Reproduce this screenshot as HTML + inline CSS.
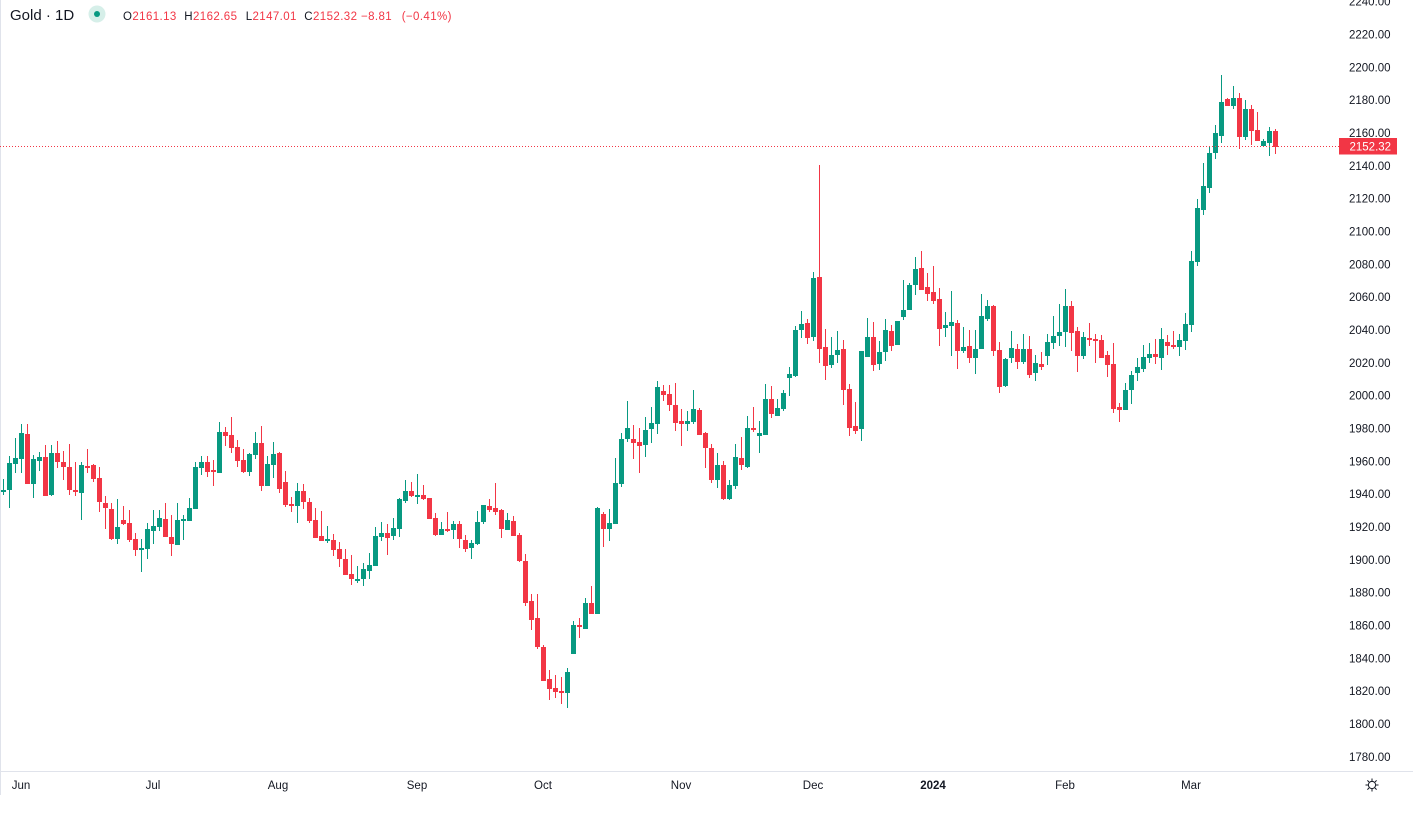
<!DOCTYPE html>
<html><head><meta charset="utf-8"><style>
html,body{margin:0;padding:0;background:#fff;}
body{width:1413px;height:814px;overflow:hidden;}
svg{display:block;font-family:"Liberation Sans",Arial,sans-serif;}
</style></head><body>
<svg width="1413" height="814" viewBox="0 0 1413 814" xmlns="http://www.w3.org/2000/svg">
<rect width="1413" height="814" fill="#fff"/>
<line x1="0.5" y1="0" x2="0.5" y2="795" stroke="#e0e3eb" stroke-width="1"/>
<line x1="0" y1="771.5" x2="1413" y2="771.5" stroke="#e0e3eb" stroke-width="1"/>

<!-- green wicks -->
<path fill="none" stroke="#089981" stroke-width="1" d="M3.5 479V495M9.5 456V508M15.5 438V473M21.5 424V473M33.5 455V498M39.5 452V471M51.5 445V496M81.5 462V520M117.5 499V544M141.5 539V572M147.5 523V559M153.5 510V544M159.5 510V531M177.5 503V545M183.5 515V540M189.5 498V521M195.5 462V509M201.5 456V475M219.5 422V473M249.5 453V476M255.5 432V459M267.5 456V486M273.5 442V478M297.5 483V523M327.5 526V543M357.5 566V583M363.5 563V586M369.5 553V579M375.5 527V566M381.5 522V541M393.5 518V540M399.5 498V537M405.5 480V503M417.5 474V504M441.5 522V535M453.5 521V539M471.5 540V559M477.5 511V545M483.5 505V524M507.5 513V530M567.5 668V708M573.5 621V654M585.5 598V629M597.5 507V614M609.5 509V541M615.5 458V524M621.5 433V487M627.5 401V442M645.5 417V457M651.5 407V443M657.5 381V434M687.5 411V431M693.5 390V424M717.5 453V488M729.5 480V500M735.5 444V489M747.5 416V468M759.5 421V453M765.5 384V435M777.5 399V416M783.5 390V411M789.5 367V396M795.5 326V377M801.5 311V338M813.5 272V341M831.5 337V368M837.5 331V363M861.5 351V441M867.5 318V357M879.5 341V370M885.5 319V361M897.5 321V345M903.5 280V320M909.5 283V310M915.5 257V295M945.5 312V337M951.5 291V356M963.5 327V353M975.5 330V374M981.5 294V349M987.5 300V321M1005.5 358V387M1011.5 331V363M1023.5 334V364M1035.5 355V381M1047.5 334V365M1053.5 316V349M1059.5 304V346M1065.5 289V347M1083.5 332V359M1125.5 383V410M1131.5 371V404M1137.5 358V381M1143.5 345V372M1149.5 343V363M1161.5 328V370M1179.5 334V356M1185.5 313V350M1191.5 251V332M1197.5 199V266M1203.5 163V215M1209.5 146V193M1215.5 125V159M1221.5 75V143M1233.5 86V109M1245.5 100V140M1263.5 139V146M1269.5 127V156"/>
<!-- green bodies -->
<path fill="#089981" d="M1 490h5V492h-5zM7 463h5V490h-5zM13 458h5V464h-5zM19 433h5V459h-5zM31 459h5V484h-5zM37 457h5V461h-5zM49 453h5V495h-5zM79 465h5V493h-5zM115 527h5V539h-5zM139 548h5V550h-5zM145 529h5V549h-5zM151 526h5V531h-5zM157 518h5V527h-5zM175 520h5V545h-5zM181 519h5V521h-5zM187 508h5V521h-5zM193 467h5V509h-5zM199 462h5V468h-5zM217 432h5V473h-5zM247 454h5V472h-5zM253 443h5V455h-5zM265 464h5V486h-5zM271 454h5V465h-5zM295 491h5V506h-5zM325 539h5V541h-5zM355 579h5V581h-5zM361 569h5V579h-5zM367 565h5V571h-5zM373 536h5V566h-5zM379 533h5V537h-5zM391 528h5V536h-5zM397 499h5V529h-5zM403 491h5V501h-5zM415 495h5V497h-5zM439 529h5V535h-5zM451 524h5V530h-5zM469 543h5V548h-5zM475 522h5V544h-5zM481 505h5V522h-5zM505 520h5V530h-5zM565 672h5V693h-5zM571 625h5V654h-5zM583 603h5V629h-5zM595 508h5V614h-5zM607 523h5V529h-5zM613 483h5V524h-5zM619 439h5V484h-5zM625 428h5V439h-5zM643 430h5V445h-5zM649 423h5V429h-5zM655 387h5V424h-5zM685 421h5V424h-5zM691 409h5V422h-5zM715 465h5V480h-5zM727 485h5V499h-5zM733 457h5V486h-5zM745 428h5V467h-5zM757 433h5V436h-5zM763 399h5V435h-5zM775 408h5V416h-5zM781 393h5V409h-5zM787 374h5V378h-5zM793 330h5V376h-5zM799 324h5V330h-5zM811 278h5V337h-5zM829 355h5V365h-5zM835 350h5V355h-5zM859 351h5V429h-5zM865 337h5V357h-5zM877 352h5V364h-5zM883 330h5V352h-5zM895 321h5V345h-5zM901 310h5V317h-5zM907 285h5V310h-5zM913 269h5V285h-5zM943 325h5V328h-5zM949 322h5V326h-5zM961 347h5V351h-5zM973 349h5V358h-5zM979 316h5V349h-5zM985 306h5V319h-5zM1003 359h5V386h-5zM1009 348h5V358h-5zM1021 349h5V362h-5zM1033 363h5V373h-5zM1045 342h5V356h-5zM1051 336h5V343h-5zM1057 332h5V336h-5zM1063 306h5V332h-5zM1081 337h5V356h-5zM1123 390h5V410h-5zM1129 375h5V390h-5zM1135 367h5V373h-5zM1141 357h5V369h-5zM1147 354h5V358h-5zM1159 339h5V358h-5zM1177 340h5V347h-5zM1183 324h5V341h-5zM1189 261h5V325h-5zM1195 208h5V262h-5zM1201 186h5V210h-5zM1207 153h5V188h-5zM1213 133h5V153h-5zM1219 102h5V136h-5zM1231 98h5V106h-5zM1243 109h5V137h-5zM1261 141h5V146h-5zM1267 131h5V143h-5z"/>

<!-- red wicks -->
<path fill="none" stroke="#f23645" stroke-width="1" d="M27.5 424V484M45.5 445V496M57.5 441V468M63.5 451V480M69.5 444V495M75.5 462V496M87.5 449V473M93.5 464V482M99.5 467V512M105.5 496V529M111.5 503V540M123.5 506V525M129.5 510V542M135.5 533V556M165.5 503V537M171.5 515V556M207.5 456V477M213.5 460V486M225.5 427V446M231.5 417V453M237.5 440V467M243.5 449V473M261.5 426V491M279.5 452V493M285.5 471V507M291.5 497V512M303.5 484V509M309.5 498V523M315.5 508V538M321.5 511V541M333.5 534V556M339.5 542V567M345.5 549V575M351.5 555V585M387.5 524V555M411.5 482V497M423.5 485V500M429.5 498V519M435.5 513V536M447.5 512V532M459.5 521V548M465.5 535V552M489.5 499V512M495.5 483V515M501.5 509V538M513.5 516V536M519.5 533V562M525.5 554V606M531.5 594V630M537.5 594V649M543.5 645V681M549.5 670V700M555.5 675V698M561.5 677V704M579.5 618V638M591.5 586V614M603.5 512V547M633.5 425V459M639.5 428V473M663.5 385V401M669.5 385V411M675.5 383V431M681.5 409V446M699.5 408V435M705.5 432V468M711.5 444V483M723.5 461V500M741.5 437V470M753.5 407V432M771.5 386V418M807.5 319V344M819.5 165V363M825.5 329V380M843.5 340V405M849.5 384V436M855.5 402V434M873.5 322V371M891.5 325V351M921.5 251V290M927.5 273V301M933.5 266V304M939.5 288V346M957.5 320V369M969.5 330V363M993.5 305V356M999.5 342V393M1017.5 344V369M1029.5 336V378M1041.5 352V370M1071.5 301V351M1077.5 327V372M1089.5 323V346M1095.5 334V363M1101.5 335V358M1107.5 351V377M1113.5 343V413M1119.5 403V422M1155.5 339V364M1167.5 335V355M1173.5 331V349M1227.5 98V106M1239.5 93V149M1251.5 105V145M1257.5 112V141M1275.5 129V154"/>
<!-- red bodies -->
<path fill="#f23645" d="M25 434h5V484h-5zM43 457h5V496h-5zM55 453h5V462h-5zM61 462h5V467h-5zM67 467h5V490h-5zM73 490h5V492h-5zM85 466h5V468h-5zM91 465h5V479h-5zM97 478h5V502h-5zM103 503h5V508h-5zM109 509h5V539h-5zM121 520h5V524h-5zM127 523h5V540h-5zM133 539h5V550h-5zM163 519h5V537h-5zM169 537h5V544h-5zM205 462h5V472h-5zM211 470h5V472h-5zM223 432h5V436h-5zM229 435h5V448h-5zM235 447h5V461h-5zM241 460h5V472h-5zM259 443h5V486h-5zM277 453h5V489h-5zM283 482h5V505h-5zM289 504h5V506h-5zM301 491h5V502h-5zM307 502h5V521h-5zM313 520h5V538h-5zM319 536h5V541h-5zM331 540h5V550h-5zM337 549h5V559h-5zM343 559h5V575h-5zM349 574h5V579h-5zM385 533h5V538h-5zM409 491h5V496h-5zM421 495h5V499h-5zM427 498h5V519h-5zM433 518h5V535h-5zM445 529h5V531h-5zM457 524h5V539h-5zM463 540h5V549h-5zM487 506h5V510h-5zM493 508h5V512h-5zM499 510h5V529h-5zM511 521h5V536h-5zM517 535h5V561h-5zM523 561h5V603h-5zM529 601h5V620h-5zM535 618h5V647h-5zM541 647h5V681h-5zM547 679h5V689h-5zM553 688h5V692h-5zM559 691h5V693h-5zM577 625h5V627h-5zM589 603h5V614h-5zM601 514h5V529h-5zM631 439h5V443h-5zM637 442h5V446h-5zM661 391h5V395h-5zM667 394h5V405h-5zM673 405h5V423h-5zM679 421h5V424h-5zM697 410h5V435h-5zM703 433h5V448h-5zM709 448h5V480h-5zM721 465h5V499h-5zM739 458h5V465h-5zM751 428h5V430h-5zM769 399h5V414h-5zM805 323h5V338h-5zM817 277h5V349h-5zM823 347h5V366h-5zM841 349h5V390h-5zM847 389h5V428h-5zM853 426h5V431h-5zM871 337h5V365h-5zM889 331h5V346h-5zM919 268h5V290h-5zM925 287h5V294h-5zM931 292h5V301h-5zM937 299h5V329h-5zM955 323h5V351h-5zM967 346h5V358h-5zM991 306h5V351h-5zM997 350h5V387h-5zM1015 349h5V362h-5zM1027 349h5V375h-5zM1039 364h5V367h-5zM1069 306h5V333h-5zM1075 331h5V356h-5zM1087 338h5V340h-5zM1093 339h5V341h-5zM1099 340h5V358h-5zM1105 355h5V365h-5zM1111 364h5V409h-5zM1117 407h5V410h-5zM1153 354h5V357h-5zM1165 342h5V346h-5zM1171 345h5V347h-5zM1225 99h5V106h-5zM1237 98h5V137h-5zM1249 109h5V131h-5zM1255 130h5V141h-5zM1273 131h5V147h-5z"/>

<!-- last price dotted line -->
<line x1="0" y1="146.5" x2="1339" y2="146.5" stroke="#f23645" stroke-width="1" stroke-dasharray="1 2"/>

<!-- price axis -->
<g font-size="11.5" fill="#131722">
<text x="1349" y="5.7">2240.00</text>
<text x="1349" y="38.5">2220.00</text>
<text x="1349" y="71.3">2200.00</text>
<text x="1349" y="104.2">2180.00</text>
<text x="1349" y="137">2160.00</text>
<text x="1349" y="169.8">2140.00</text>
<text x="1349" y="202.7">2120.00</text>
<text x="1349" y="235.5">2100.00</text>
<text x="1349" y="268.3">2080.00</text>
<text x="1349" y="301.2">2060.00</text>
<text x="1349" y="334">2040.00</text>
<text x="1349" y="366.8">2020.00</text>
<text x="1349" y="399.6">2000.00</text>
<text x="1349" y="432.5">1980.00</text>
<text x="1349" y="465.3">1960.00</text>
<text x="1349" y="498.1">1940.00</text>
<text x="1349" y="531">1920.00</text>
<text x="1349" y="563.8">1900.00</text>
<text x="1349" y="596.6">1880.00</text>
<text x="1349" y="629.5">1860.00</text>
<text x="1349" y="662.3">1840.00</text>
<text x="1349" y="695.1">1820.00</text>
<text x="1349" y="728">1800.00</text>
<text x="1349" y="760.8">1780.00</text>
</g>
<rect x="1339" y="138" width="58" height="16.5" fill="#f23645"/>
<text x="1349.5" y="150.3" font-size="11.5" fill="#ffffff">2152.32</text>

<!-- time axis -->
<g font-size="11.5" fill="#131722" text-anchor="middle">
<text x="21" y="789">Jun</text>
<text x="153" y="789">Jul</text>
<text x="278" y="789">Aug</text>
<text x="417" y="789">Sep</text>
<text x="543" y="789">Oct</text>
<text x="681" y="789">Nov</text>
<text x="813" y="789">Dec</text>
<text x="933" y="789" font-weight="bold">2024</text>
<text x="1065" y="789">Feb</text>
<text x="1191" y="789">Mar</text>
</g>
<!-- gear -->
<g transform="translate(1372,785)" stroke="#131722" stroke-width="1" fill="none">
<circle r="3.6"/>
<path d="M0 -6.5V-4M0 4V6.5M-6.5 0H-4M4 0H6.5M-4.6 -4.6L-2.9 -2.9M2.9 2.9L4.6 4.6M-4.6 4.6L-2.9 2.9M2.9 -2.9L4.6 -4.6"/>
</g>

<!-- header -->
<text x="10" y="20" font-size="15" fill="#131722">Gold · 1D</text>
<circle cx="97" cy="14" r="8.5" fill="#d6efe9"/>
<circle cx="97" cy="14" r="3" fill="#089981"/>
<g font-size="11.5" letter-spacing="0.4">
<text x="123" y="20"><tspan fill="#131722">O</tspan><tspan fill="#f23645">2161.13</tspan></text>
<text x="184.3" y="20"><tspan fill="#131722">H</tspan><tspan fill="#f23645">2162.65</tspan></text>
<text x="245.7" y="20"><tspan fill="#131722">L</tspan><tspan fill="#f23645">2147.01</tspan></text>
<text x="304.3" y="20"><tspan fill="#131722">C</tspan><tspan fill="#f23645">2152.32</tspan></text>
<text x="361" y="20" fill="#f23645">−8.81</text>
<text x="401.7" y="20" fill="#f23645">(−0.41%)</text>
</g>
</svg>
</body></html>
